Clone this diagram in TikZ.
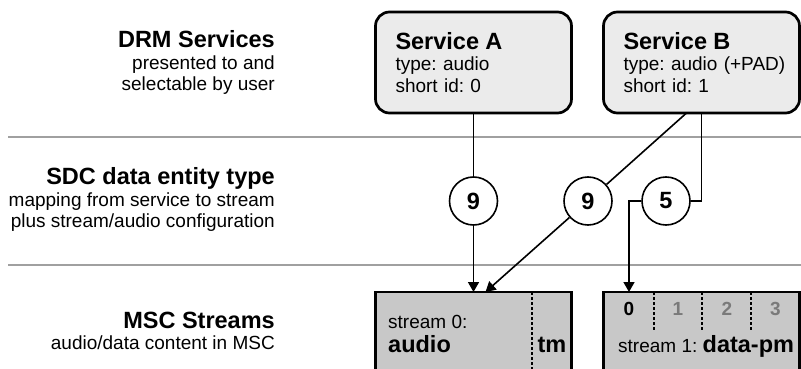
\documentclass[tikz,border=0pt]{standalone}
\usepackage{fontspec}
\setmainfont{Liberation Sans}
\usetikzlibrary{positioning,arrows.meta,calc}
\frenchspacing
\newcommand{\headfont}{\fontsize{23.5}{22}\selectfont\bfseries}
\newcommand{\bodyfont}{\fontsize{19}{21.5}\selectfont}
\definecolor{svcgray}{HTML}{EBEBEB}
\definecolor{streamgray}{HTML}{C8C8C8}
\definecolor{sepgray}{HTML}{A0A0A0}
\definecolor{subgray}{HTML}{7A7A7A}
\tikzset{
  servicebox/.style={draw, line width=2.7pt, rounded corners=14pt, fill=svcgray,
    minimum width=196pt, minimum height=101pt, text width=156pt, inner xsep=20pt,
    outer sep=0pt, align=left, font=\bodyfont},
  streambox/.style={draw, line width=2.7pt, fill=streamgray, minimum width=196pt,
    minimum height=100pt, outer sep=0pt, anchor=north},
  sdcnum/.style={circle, draw, line width=1.6pt, fill=white, minimum size=48pt,
    inner sep=0pt, font=\headfont},
  maplink/.style={line width=1.6pt},
  maparrow/.style={maplink, -{Triangle[length=10pt, width=11pt]}},
  layerline/.style={sepgray, line width=2pt},
  layerlabel/.style={anchor=north east, align=right, inner sep=0pt, font=\bodyfont},
  plaintext/.style={inner sep=0pt, font=\bodyfont},
  subdiv/.style={line width=1.4pt, dash pattern=on 3pt off 2pt},
  celltext/.style={plaintext, anchor=base, font=\bodyfont\bfseries},
}

\begin{document}
\begin{tikzpicture}[x=1pt, y=-1pt]
  \clip (0,0) rectangle (801,369);
  \fill[white] (0,0) rectangle (801,369);
  % Schichten
  \draw[layerline] (8,137) -- (801,137);
  \draw[layerline] (8,265) -- (801,265);
  \node[layerlabel] (drm) at (275,30.5) {{\headfont DRM Services}\\presented to and\\selectable by user};
  \node[layerlabel] (sdc) at (275,167.5) {{\headfont SDC data entity type}\\mapping from service to stream\\plus stream/audio configuration};
  \node[layerlabel] (msc) at (275,311.5) {{\headfont MSC Streams}\\audio/data content in MSC};
  % Dienste
  \node[servicebox] (svcA) at (473.5,62.5) {{\headfont Service A}\\type: audio\\short id: 0};
  \node[servicebox] (svcB) at (701.5,62.5) {{\headfont Service B}\\\mbox{type: audio (+PAD)}\\short id: 1};
  % SDC-Typen
  \node[sdcnum] (c9a) at (473.5,201) {9};
  \node[sdcnum] (c9b) at (588,201) {9};
  \node[sdcnum] (c5) at (666,201) {5};
  % MSC-Streams
  \node[streambox] (st0) at (473.5,292) {};
  \node[streambox] (st1) at (701.5,292) {};
  \draw[subdiv] (532,292) -- (532,369);
  \foreach \x/\w in {654/1.4, 702/2.4, 751/1.4}
    \draw[subdiv, line width=\w pt] (\x,292) -- (\x,330);
  \node[plaintext, anchor=base west] (st0lbl) at (388,328) {stream 0:};
  \node[plaintext, anchor=base west, font=\headfont] (st0kind) at (388,352) {audio};
  \node[plaintext, anchor=base, font=\headfont] (st0tm) at (552,352) {tm};
  \node[celltext] (cell0) at (629,315) {0};
  \node[celltext, text=subgray] (cell1) at (678,315) {1};
  \node[celltext, text=subgray] (cell2) at (727,315) {2};
  \node[celltext, text=subgray] (cell3) at (775.5,315) {3};
  \node[plaintext, anchor=base west] (st1lbl) at (618,352) {stream 1: {\headfont data-pm}};
  % Verbindungen
  \coordinate (bdiag) at ($(svcB.south west)+(83,0)$);
  \coordinate (st0hit) at ($(st0.north)+(12,0)$);
  \coordinate (st1hit) at (cell0 |- st1.north);
  \draw[maplink] (svcA) -- (c9a);
  \draw[maparrow] (c9a) -- (st0);
  \draw[maplink] (bdiag) -- (c9b);
  \draw[maparrow] (c9b) -- (st0hit);
  \draw[maplink] (svcB.south) |- (c5);
  \draw[maparrow] (c5) -| (st1hit);
\end{tikzpicture}
\end{document}
